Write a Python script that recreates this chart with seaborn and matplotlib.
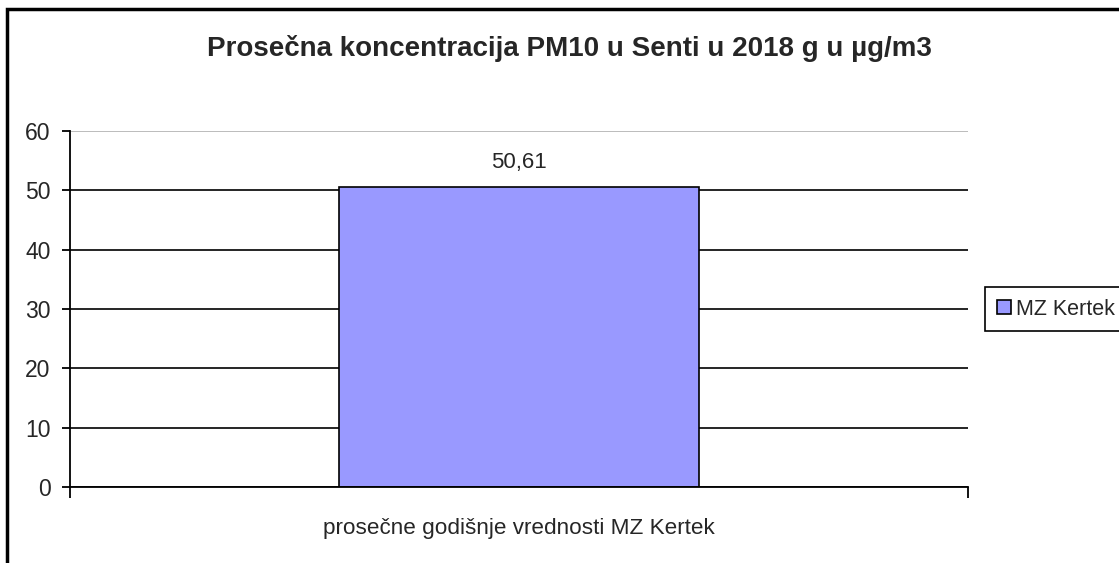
import pandas as pd
import seaborn as sns
from matplotlib import pyplot as plt
from matplotlib.patches import Rectangle

categories = ['prosečne godišnje vrednosti MZ Kertek']
series = ['MZ Kertek']
values = [50.61]
yticks = [0, 10, 20, 30, 40, 50, 60]

df = pd.DataFrame({'kategorija': categories, 'serija': series, 'vrednost': values})

sns.set_style('white')
plt.rcParams['font.family'] = ['Liberation Sans', 'DejaVu Sans']

fig = plt.figure(figsize=(11.19, 5.63), dpi=100)
ax = fig.add_axes([0.0626, 0.135, 0.8025, 0.632])

sns.barplot(data=df, x='kategorija', y='vrednost', hue='serija',
            palette=['#9999ff'], edgecolor='black', linewidth=1.2,
            width=0.4, saturation=1, ax=ax)

ax.set_xlim(-0.5, 0.5)
ax.set_ylim(0, 60)
ax.set_yticks(yticks)
ax.set_xlabel('')
ax.set_ylabel('')
ax.tick_params(axis='y', labelsize=16.5, length=6, width=1.3, color='black', pad=8,
               direction='out', left=True)
ax.tick_params(axis='x', which='major', labelsize=16.2, length=0, pad=22)
ax.set_xticks([-0.5, 0.5], minor=True)
ax.tick_params(axis='x', which='minor', length=8, width=1.3, color='black',
               direction='out', bottom=True)

ax.set_axisbelow(True)
ax.yaxis.grid(True, color='black', linewidth=1.2)
ax.yaxis.get_gridlines()[-1].set_color('#b0b0b0')
for side in ['top', 'right']:
    ax.spines[side].set_visible(False)
for side in ['left', 'bottom']:
    ax.spines[side].set_color('black')
    ax.spines[side].set_linewidth(1.3)

ax.bar_label(ax.containers[0],
             labels=[f'{v:.2f}'.replace('.', ',') for v in values],
             padding=10, fontsize=16)

fig.suptitle('Prosečna koncentracija PM10 u Senti u 2018 g u µg/m3',
             x=0.509, y=0.937, fontsize=20, fontweight='bold')

leg = ax.legend(loc='center left', bbox_to_anchor=(1.019, 0.5), fontsize=15.5,
                frameon=True, fancybox=False, framealpha=1, edgecolor='black',
                handlelength=0.65, handleheight=0.65, handletextpad=0.22,
                borderpad=0.55, borderaxespad=0)
leg.get_frame().set_linewidth(1.2)

fig.patches.append(Rectangle((0.0063, -0.05), 1.1, 1.034, transform=fig.transFigure,
                             fill=False, edgecolor='black', linewidth=2.5))

plt.savefig('out.png', dpi=100)
